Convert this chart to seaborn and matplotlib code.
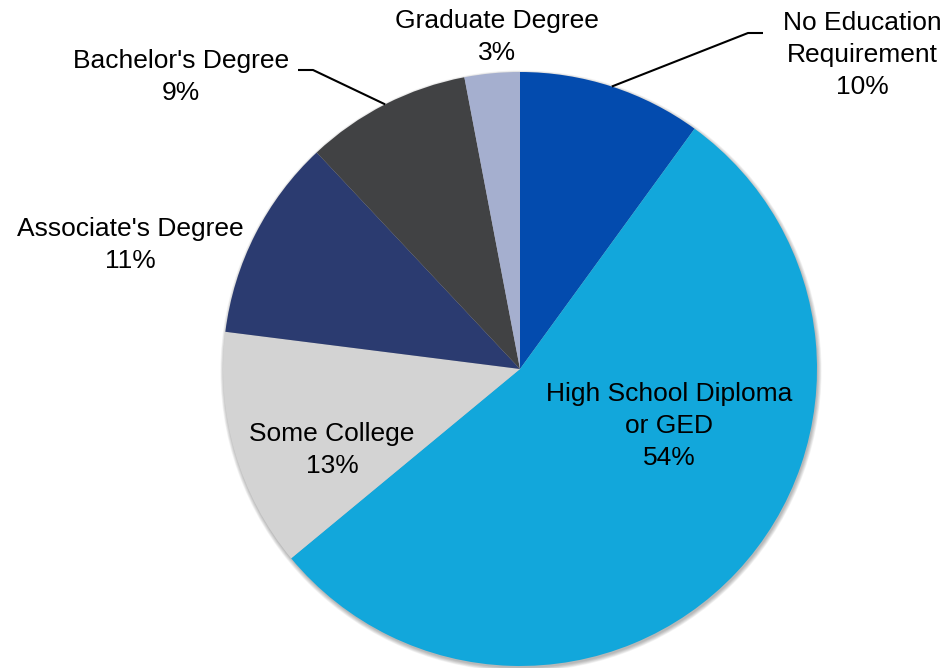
import matplotlib
matplotlib.use("Agg")
import matplotlib.pyplot as plt
from matplotlib.patches import Circle
import numpy as np
import seaborn as sns

# Education requirement shares (percent), clockwise from 12 o'clock
categories = [
    "No Education\nRequirement",
    "High School Diploma\nor GED",
    "Some College",
    "Associate's Degree",
    "Bachelor's Degree",
    "Graduate Degree",
]
shares = [10, 54, 13, 11, 9, 3]
colors = ["#034BAE", "#12A7DB", "#D3D3D3", "#2B3B70", "#414244", "#A5AFCF"]

sns.set_theme(style="white")
plt.rcParams["font.family"] = ["Liberation Sans", "DejaVu Sans"]

W, H = 952, 668
fig = plt.figure(figsize=(W / 100, H / 100), dpi=100)
ax = fig.add_axes([0, 0, 1, 1])

cx, cy, r = 520, H - 369, 297

# soft drop shadow under the pie
for i in range(7):
    ax.add_patch(Circle((cx + 1.0, cy - 2.0), r + 0.6 * i, color="#000000",
                        alpha=0.045, lw=0, zorder=0))

wedges, _ = ax.pie(shares, colors=colors, startangle=90, counterclock=False,
                   radius=r, center=(cx, cy),
                   wedgeprops=dict(linewidth=0, zorder=2))

ax.set_xlim(0, W)
ax.set_ylim(0, H)
ax.set_aspect("equal")
ax.axis("off")

fs = 19


def label(i, x, y):
    ax.text(x, H - y, f"{categories[i]}\n{shares[i]}%", ha="center", va="center",
            fontsize=fs, color="#000000", linespacing=1.44, zorder=5)


label(0, 862, 55)
label(1, 669, 426)
label(2, 332, 450)
label(3, 130, 245)
label(4, 181, 77)
label(5, 497, 37)


def edge_point(w):
    mid = np.deg2rad((w.theta1 + w.theta2) / 2)
    return cx + r * np.cos(mid), cy + r * np.sin(mid)


# leader lines for the two labels placed outside the pie
def leader(i, x_end, x_elbow, y):
    px, py = edge_point(wedges[i])
    ax.plot([x_end, x_elbow, px], [H - y, H - y, py], color="#000000",
            lw=1.5, solid_capstyle="butt", zorder=4)


leader(0, 763, 748, 33)
leader(4, 298, 313, 70)

fig.savefig("out.png", dpi=100, facecolor="white")
